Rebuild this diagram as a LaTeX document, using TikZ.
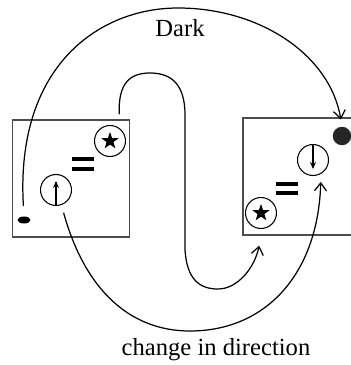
\documentclass[tikz,border=0pt]{standalone}
\usepackage{fontspec}
\setmainfont{Liberation Serif}
\usetikzlibrary{calc, positioning}
\usetikzlibrary{arrows.meta}
\usetikzlibrary{shapes.geometric}

\begin{document}
\begin{tikzpicture}[x=0.2mm, y=0.2mm,
  panel/.style={draw=black!70, line width=0.85pt, minimum width=23.4mm, minimum height=23.4mm, inner sep=0pt},
  ring/.style={circle, draw, line width=0.6pt, minimum size=6.2mm, inner sep=0pt},
  starmark/.style={star, star points=5, star point ratio=2.5, fill=black, minimum size=3.6mm, inner sep=0pt},
  bar/.style={line width=0.65mm},
  flow/.style={line width=0.7pt, -{Straight Barb[length=1.6mm, width=2.4mm]}},
  spin/.style={line width=0.6pt, -{Stealth[length=1.4mm, width=1.2mm]}},
  lbl/.style={font=\fontsize{14}{16}\selectfont}]
\useasboundingbox (0,0) rectangle (351,365);
\node[panel] (boxL) at (71,186.5) {};
\node[panel] (boxR) at (301.5,188.5) {};
\node[ring] (starL) at (110,224) {};
\node[starmark] at (starL) {};
\node[ring] (upL) at (56,175) {};
\draw[spin] (upL.south) -- ($(upL.north)+(0,-7)$);
\draw[bar] (72,206) -- (94,206);
\draw[bar] (72,196) -- (94,196);
\node[ellipse, fill, minimum width=2.6mm, minimum height=1.4mm, inner sep=0pt] (dotL) at (24,145) {};
\node[ring] (downR) at (313,205) {};
\draw[spin] (downR.north) -- ($(downR.south)+(0,7)$);
\draw[bar] (276,181) -- (298,181);
\draw[bar] (276,172) -- (298,172);
\node[ring] (starR) at (261,152) {};
\node[starmark] at (starR) {};
\node[circle, fill=black!85, minimum size=3.7mm, inner sep=0pt] (dotR) at (342,229) {};
\coordinate (sTop) at ($(boxL.north east)+(-11,5)$);
\draw[flow, shorten <=2mm, shorten >=1.4mm] (dotL.north) .. controls (15,300) and (100,357) .. (178,357) .. controls (260,357) and (330,310) .. (dotR.north);
\draw[flow, shorten <=1.6mm, shorten >=1.6mm] (upL.-70) .. controls (85,75) and (130,34) .. (190,34) .. controls (265,34) and (318,90) .. (downR.-60);
\draw[flow, shorten >=2mm] (sTop) .. controls (118,282) and (130,292) .. (150,292) .. controls (172,292) and (185,280) .. (185,250) -- (185,115) .. controls (187,85) and (200,76) .. (218,76) .. controls (238,76) and (255,98) .. (boxR.south -| starR);
\node[lbl, anchor=base] (dark) at (180,329) {Dark};
\node[lbl, anchor=base] (change) at (216,10) {change in direction};
\end{tikzpicture}
\end{document}
